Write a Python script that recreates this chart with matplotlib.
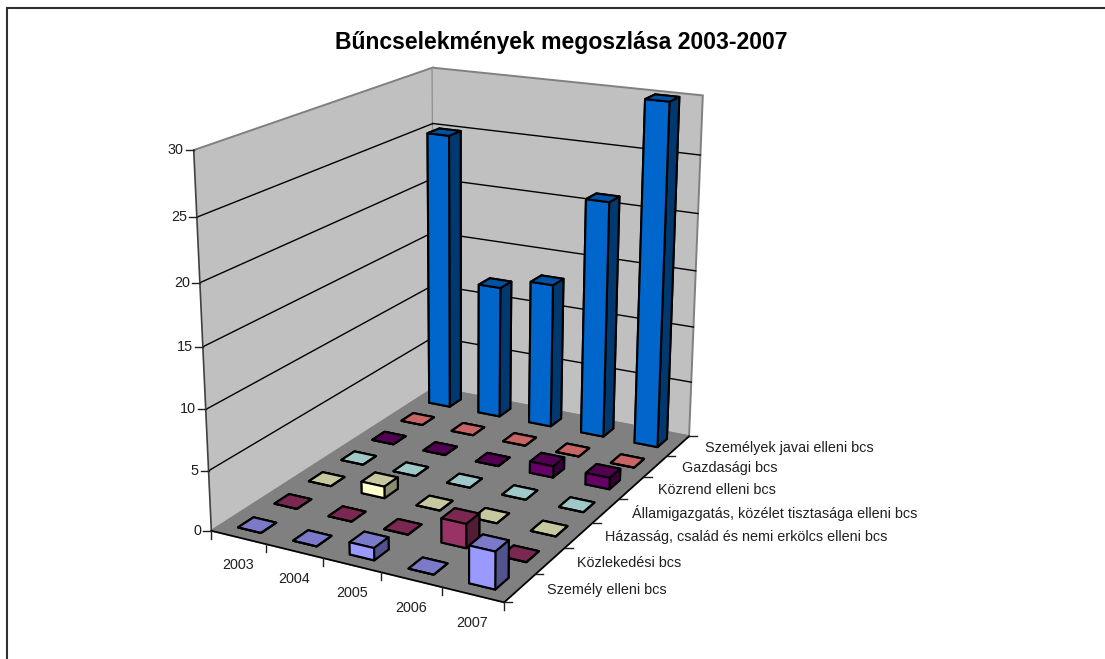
import matplotlib
matplotlib.use('Agg')
import matplotlib.pyplot as plt
import numpy as np
from matplotlib.lines import Line2D
from mpl_toolkits.mplot3d import proj3d

plt.rcParams['font.family'] = ['Liberation Sans', 'DejaVu Sans']

WIDTH, HEIGHT = 1105, 659

title = 'Bűncselekmények megoszlása 2003-2007'
years = ['2003', '2004', '2005', '2006', '2007']
categories = [
    'Személy elleni bcs',
    'Közlekedési bcs',
    'Házasság, család és nemi erkölcs elleni bcs',
    'Államigazgatás, közélet tisztasága elleni bcs',
    'Közrend elleni bcs',
    'Gazdasági bcs',
    'Személyek javai elleni bcs',
]
z_ticks = [0, 5, 10, 15, 20, 25, 30]

szemely = [0, 0, 1, 0, 3]
kozlekedesi = [0, 0, 0, 2, 0]
hazassag = [0, 1, 0, 0, 0]
allamigazgatas = [0, 0, 0, 0, 0]
kozrend = [0, 0, 0, 1, 1]
gazdasagi = [0, 0, 0, 0, 0]
javak = [25, 12, 13, 21, 30]
series = [szemely, kozlekedesi, hazassag, allamigazgatas, kozrend, gazdasagi, javak]

# front, top, side
colors = [
    ('#9999FF', '#7A7AC8', '#52528C'),
    ('#993366', '#7A2852', '#521C38'),
    ('#FFFFCC', '#C8C8A0', '#8C8C70'),
    ('#CCFFFF', '#A0C8C8', '#708C8C'),
    ('#660066', '#520052', '#380038'),
    ('#FF8080', '#C86464', '#8C4646'),
    ('#0066CC', '#0052A3', '#003870'),
]

# camera found by fitting the wall and floor corners
ELEV, AZIM, FOCAL = 18.158, -61.869, 0.535
BOX = (1, 1.399, 1.187)
SCALE, TX, TY = 3492.8, 464.5, 306.5

BAR_W = 0.42
BAR_D = 0.42

fig = plt.figure(figsize=(WIDTH / 100, HEIGHT / 100), dpi=100)
ax = fig.add_axes([0, 0, 1, 1], projection='3d', computed_zorder=False)
ax.set_xlim(0, len(years))
ax.set_ylim(0, len(categories))
ax.set_zlim(0, 30)
ax.view_init(elev=ELEV, azim=AZIM)
ax.set_proj_type('persp', focal_length=FOCAL)
ax.set_box_aspect(BOX)

x0, y0, x1, y1 = ax.viewLim.extents
side = SCALE * (x1 - x0)
left = TX + SCALE * x0
bottom = TY - SCALE * y0
ax.set_position([left / WIDTH, 1 - bottom / HEIGHT, side / WIDTH, side / HEIGHT])
ax.patch.set_alpha(0)

for axis, c in ((ax.xaxis, '#C0C0C0'), (ax.yaxis, '#C0C0C0'), (ax.zaxis, '#808080')):
    axis.set_pane_color(c)
    axis.pane.set_edgecolor('#808080')
    axis.pane.set_linewidth(1.4)
    axis.line.set_color('none')
    axis.set_ticks([])
ax.grid(False)

for z in z_ticks[1:-1]:
    ax.plot([0, 0], [0, 7], [z, z], color='black', lw=1, zorder=1)
    ax.plot([0, 5], [7, 7], [z, z], color='black', lw=1, zorder=1)

ax.plot([0, 0], [0, 0], [0, 30], color='#404040', lw=1.2, zorder=1)
ax.plot([0, 5], [0, 0], [0, 0], color='black', lw=1.2, zorder=1)
ax.plot([5, 5], [0, 7], [0, 0], color='black', lw=1.2, zorder=1)

xs, ys, dz, face_colors = [], [], [], []
for j, row in enumerate(series):
    for i, v in enumerate(row):
        xs.append(i + 0.5 - BAR_W / 2)
        ys.append(j + 0.5 - BAR_D / 2)
        dz.append(v)
        front, top, sidec = colors[j]
        # -z, +z, -y, +y, -x, +x
        face_colors += [top, top, front, front, sidec, sidec]
ax.bar3d(xs, ys, np.zeros(len(xs)), BAR_W, BAR_D, dz, color=face_colors, shade=False,
         edgecolor='black', linewidth=1.5, zorder=2)


def to_px(x, y, z):
    u, v, _ = proj3d.proj_transform(x, y, z, ax.get_proj())
    return SCALE * u + TX, HEIGHT - (TY - SCALE * v)


def tick(x, y, z, dx, dy):
    px, py = to_px(x, y, z)
    fig.add_artist(Line2D([px, px + dx], [py, py + dy], color='#202020', lw=1, transform=None))


def label(x, y, z, text, dx, dy, ha):
    px, py = to_px(x, y, z)
    fig.text((px + dx) / WIDTH, (py + dy) / HEIGHT, text, fontsize=10.4, color='#202020', ha=ha, va='center')


for z in z_ticks:
    tick(0, 0, z, -8, 0)
    label(0, 0, z, str(z), -10, 0, 'right')

for i, name in enumerate(years):
    tick(i, 0, 0, 0, -8)
    label(i + 0.5, 0, 0, name, 0, -28, 'center')
tick(5, 0, 0, 0, -8)

for j, name in enumerate(categories):
    tick(5, j, 0, 8, 0)
    label(5, j + 0.5, 0, name, 26.5, -2, 'left')
tick(5, 7, 0, 8, 0)

fig.text(561 / WIDTH, 1 - 42 / HEIGHT, title, fontsize=16.6, fontweight='bold', ha='center', va='center')
fig.add_artist(Line2D([7 / WIDTH, 7 / WIDTH], [0, 1 - 8 / HEIGHT], color='#303030', lw=1.5))
fig.add_artist(Line2D([7 / WIDTH, 1], [1 - 8 / HEIGHT, 1 - 8 / HEIGHT], color='#303030', lw=1.5))

fig.savefig('out.png', dpi=100)
